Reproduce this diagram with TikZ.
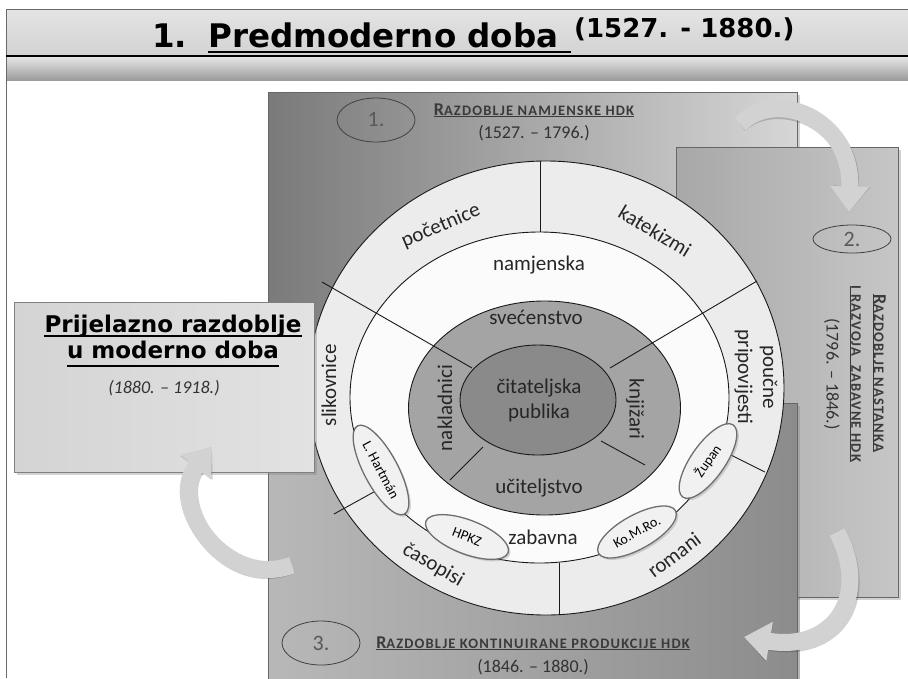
\documentclass[tikz,border=0pt]{standalone}
\usepackage{fontspec}
\setmainfont{Carlito}
\newfontfamily\comicfont{DejaVu Sans}
\usetikzlibrary{arrows.meta,shadows,shapes.geometric}

\definecolor{barlight}{HTML}{E4E4E4}
\definecolor{bardark}{HTML}{D2D2D2}
\definecolor{bandtop}{HTML}{E8E8E8}
\definecolor{bandmid}{HTML}{DADADA}
\definecolor{banddark}{HTML}{9C9C9C}
\definecolor{framegray}{HTML}{6A6A6A}
\definecolor{paneloneleft}{HTML}{7A7A7A}
\definecolor{paneloneright}{HTML}{D6D6D6}
\definecolor{paneltwoleft}{HTML}{A8A8A8}
\definecolor{paneltworight}{HTML}{C6C6C6}
\definecolor{panelthreeleft}{HTML}{B8B8B8}
\definecolor{panelthreeright}{HTML}{8C8C8C}
\definecolor{ringlight}{HTML}{ECECEC}
\definecolor{ringwhite}{HTML}{FBFBFB}
\definecolor{ringgray}{HTML}{A4A4A4}
\definecolor{coregray}{HTML}{8A8A8A}
\definecolor{tagfill}{HTML}{F1F1F1}
\definecolor{tagborder}{HTML}{6E6E6E}
\definecolor{boxleft}{HTML}{D4D4D4}
\definecolor{boxright}{HTML}{E2E2E2}
\definecolor{arrowgray}{HTML}{D2D2D2}
\definecolor{headgray}{HTML}{3A3A3A}

% small caps heading: big first letter, rest smaller
\newcommand{\razhead}[2]{\underline{\bfseries{\fontsize{18}{18}\selectfont #1}{\fontsize{14.5}{14.5}\selectfont\addfontfeature{LetterSpace=8}#2}}}

\tikzset{
  panel/.style={draw=black!60, line width=0.8pt,
    drop shadow={shadow xshift=3pt, shadow yshift=-3pt, opacity=0.35}},
  wheelline/.style={draw=black!90, line width=0.9pt},
  wheeltext/.style={font=\fontsize{21}{25}\selectfont, text=black!85, align=center, inner sep=0pt},
  tag/.style={ellipse, draw=tagborder, line width=1.3pt, fill=tagfill, inner sep=0pt,
    minimum width=88pt, minimum height=34pt, font=\fontsize{14}{14}\selectfont,
    drop shadow={shadow xshift=2pt, shadow yshift=-2pt, opacity=0.3}},
  numoval/.style={ellipse, draw=black!75, line width=0.8pt, minimum width=78pt,
    minimum height=44pt, inner sep=0pt, font=\fontsize{22}{22}\selectfont, text=black!65},
  headtext/.style={text=headgray, inner sep=0pt},
  datetext/.style={font=\fontsize{18}{18}\selectfont, text=black!80, inner sep=0pt},
  titletext/.style={font=\comicfont\bfseries\fontsize{32.5}{33}\selectfont, inner sep=0pt},
  boxtitle/.style={font=\comicfont\bfseries\fontsize{23}{24}\selectfont, inner sep=0pt},
  bendarrow/.style={line width=17pt, draw=arrowgray, -{Triangle[length=26pt,width=38pt]}},
  bendshadow/.style={line width=17pt, draw=black, opacity=0.18, -{Triangle[length=26pt,width=38pt]}}
}

\begin{document}
\begin{tikzpicture}[x=1pt,y=-1pt]
    \useasboundingbox (0,0) rectangle (908,678);
    \fill[white] (0,0) rectangle (908,678);

    % Title bar
    \shade[top color=barlight, bottom color=bardark] (6,9) rectangle (908,56);
    \shade[top color=bandtop, middle color=bandmid, bottom color=banddark] (6,56) rectangle (908,80);
    \draw[framegray, line width=1pt] (908,9) -- (6,9) -- (6,678);
    \draw[line width=1.6pt] (6,56) -- (908,56);

    \node[titletext, anchor=base west] (titlenum) at (152,47) {1.};
    \node[titletext, anchor=base west] (titlemain) at (208,47) {Predmoderno doba};
    \node[titletext, font=\comicfont\bfseries\fontsize{26}{28}\selectfont, anchor=base west] (titleyears) at (574,37) {(1527. - 1880.)};
    \draw[line width=2.4pt] ([yshift=-5pt]titlemain.base west) -- ([yshift=-5pt, xshift=12pt]titlemain.base east);

    % Panels
    \path[panel, left color=paneloneleft, right color=paneloneright] (268,92) rectangle (797,690);
    \path[panel, left color=paneltwoleft, right color=paneltworight] (676,147) rectangle (898,597);
    \path[panel, left color=panelthreeleft, right color=panelthreeright] (268,403) rectangle (797,690);

    % Wheel
    \coordinate (outerC) at (546,388);
    \coordinate (whiteC) at (539.5,397.5);
    \coordinate (grayC) at (544.5,408);
    \coordinate (coreC) at (538,400);
    \fill[ringlight] (outerC) ellipse (238 and 227);
    \fill[ringwhite] (whiteC) ellipse (189.5 and 165.5);
    \fill[ringgray] (grayC) ellipse (136 and 107);
    \fill[coregray] (coreC) ellipse (78 and 55);

    % Dividers
    \draw[wheelline] (540,161) -- (540,232);
    \draw[wheelline] (559,563) -- (559,615);
    \draw[wheelline] (322,282) -- (472,368);
    \draw[wheelline] (757,281) -- (610,368);
    \draw[wheelline] (334,514) -- (381,488);
    \draw[wheelline] (450,480) -- (483,447);
    \draw[wheelline] (601,441) -- (645,465);
    \draw[wheelline] (720,449.5) -- (765,472);

    \draw[wheelline] (outerC) ellipse (238 and 227);
    \draw[wheelline] (whiteC) ellipse (189.5 and 165.5);
    \draw[wheelline] (grayC) ellipse (136 and 107);
    \draw[wheelline] (coreC) ellipse (78 and 55);

    % Wheel labels
    \node[wheeltext, rotate=23] (pocetnice) at (441,226) {početnice};
    \node[wheeltext, rotate=-31] (katekizmi) at (655,231) {katekizmi};
    \node[wheeltext, rotate=-90] (poucne) at (756,377) {poučne\\pripovijesti};
    \node[wheeltext, rotate=37] (romani) at (674,555) {romani};
    \node[wheeltext, rotate=-30] (casopisi) at (433,565) {časopisi};
    \node[wheeltext, rotate=90] (slikovnice) at (329,385) {slikovnice};
    \node[wheeltext] (namjenska) at (539,265) {namjenska};
    \node[wheeltext] (zabavna) at (543,537) {zabavna};
    \node[wheeltext] (svecenstvo) at (536,317) {svećenstvo};
    \node[wheeltext] (uciteljstvo) at (539,488) {učiteljstvo};
    \node[wheeltext, rotate=90] (nakladnici) at (445,408) {nakladnici};
    \node[wheeltext, rotate=-90] (knjizari) at (635,409) {knjižari};
    \node[wheeltext] (publika) at (539,400) {čitateljska\\publika};

    % Tags
    \node[tag, rotate=-62, minimum width=100pt] (hartman) at (381,470) {L. Hartmán};
    \node[tag, rotate=-21] (hpkz) at (467,537) {HPKZ};
    \node[tag, rotate=29] (komro) at (637,532) {Ko.M.Ro.};
    \node[tag, rotate=55] (zupan) at (708,461) {Župan};

    % Panel headings
    \node[numoval] (oval1) at (376,120) {1.};
    \node[headtext, anchor=base] (head1) at (534,115) {\razhead{R}{AZDOBLJE NAMJENSKE HDK}};
    \node[datetext, anchor=base] (date1) at (534,138) {(1527. – 1796.)};

    \node[numoval, minimum height=28pt] (oval2) at (852,239) {2.};
    \node[headtext, rotate=-90] (head2a) at (879,373) {\razhead{R}{AZDOBLJE NASTANKA}};
    \node[headtext, rotate=-90] (head2b) at (855,374) {\razhead{}{I RAZVOJA\ \ ZABAVNE HDK}};
    \node[datetext, rotate=-90] (date2) at (832,374) {(1796. – 1846.)};

    \node[numoval] (oval3) at (321,643) {3.};
    \node[headtext, anchor=base] (head3) at (533,648) {\razhead{R}{AZDOBLJE KONTINUIRANE PRODUKCIJE HDK}};
    \node[datetext, anchor=base] (date3) at (533,672) {(1846. – 1880.)};

    % Transition box
    \path[panel, draw=black!50, left color=boxleft, right color=boxright] (14,302) rectangle (314,472);
    \node[boxtitle, anchor=base] (boxline1) at (173,332) {Prijelazno razdoblje};
    \node[boxtitle, anchor=base] (boxline2) at (173,358) {u moderno doba};
    \draw[line width=1.6pt] ([yshift=-4pt]boxline1.base west) -- ([yshift=-4pt]boxline1.base east);
    \draw[line width=1.6pt] ([yshift=-8pt]boxline2.base west) -- ([yshift=-8pt]boxline2.base east);
    \node[datetext, anchor=base, font=\itshape\fontsize{18}{18}\selectfont] (boxdate) at (164,393) {(1880. – 1918.)};

    % Arrows
    \coordinate (arrAstart) at (740,124);
    \coordinate (arrAend) at (849,212);
    \coordinate (arrBstart) at (837,532);
    \coordinate (arrBend) at (744,637);
    \coordinate (arrCstart) at (292,565);
    \coordinate (arrCend) at (212,447);
    \draw[bendshadow, shift={(2,3)}] (arrAstart) .. controls (776,88) and (852,118) .. (arrAend);
    \draw[bendarrow] (arrAstart) .. controls (776,88) and (852,118) .. (arrAend);
    \draw[bendshadow, shift={(2,3)}] (arrBstart) .. controls (872,598) and (832,652) .. (arrBend);
    \draw[bendarrow] (arrBstart) .. controls (872,598) and (832,652) .. (arrBend);
    \draw[bendshadow, shift={(2,3)}] (arrCstart) .. controls (228,590) and (165,505) .. (arrCend);
    \draw[bendarrow] (arrCstart) .. controls (228,590) and (165,505) .. (arrCend);
\end{tikzpicture}
\end{document}
